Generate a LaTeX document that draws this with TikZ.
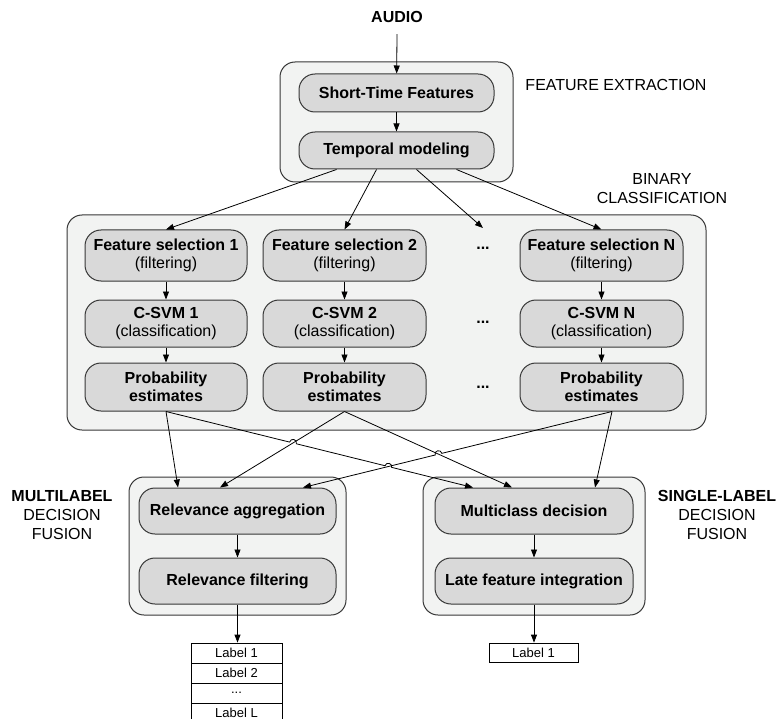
\documentclass[tikz,border=0pt]{standalone}
\usepackage{fontspec}
\setmainfont{Liberation Sans}
\usetikzlibrary{arrows.meta}
\definecolor{boxfill}{RGB}{217,217,217}
\definecolor{contfill}{RGB}{242,243,242}
\definecolor{edgec}{RGB}{55,55,55}
\begin{document}
\begin{tikzpicture}[x=1pt,y=-1pt,
  font=\fontsize{16}{18}\selectfont,
  cont/.style={draw=edgec, fill=contfill, rounded corners=15pt, line width=1pt, inner sep=0pt},
  box/.style={draw=edgec, fill=boxfill, rounded corners=16pt, line width=1pt, align=center, inner sep=0pt},
  cell/.style={draw=black, fill=white, line width=0.8pt, inner sep=0pt, font=\fontsize{13}{15}\selectfont},
  lab/.style={align=center, font=\fontsize{16}{19}\selectfont},
  arr/.style={-{Triangle[length=8pt,width=6pt]}, line width=0.8pt, black},
  ln/.style={line width=0.8pt, black},
  hopw/.style={fill=white}]
\useasboundingbox[fill=white] (0,0) rectangle (778,719);

% labels
\node[font=\fontsize{16}{18}\selectfont\bfseries] (audio) at (397,17) {AUDIO};
\node[lab] (lfe) at (616,85) {FEATURE EXTRACTION};
\node[lab] (lbc) at (662,189) {BINARY\\CLASSIFICATION};
\node[lab] (lml) at (62,515) {\textbf{MULTILABEL}\\DECISION\\FUSION};
\node[lab] (lsl) at (717,515) {\textbf{SINGLE-LABEL}\\DECISION\\FUSION};

% feature extraction
\node[cont, minimum width=233pt, minimum height=120pt] (fe) at (396.5,122) {};
\node[box, minimum width=195pt, minimum height=38pt] (stf) at (396.5,93) {\textbf{Short-Time Features}};
\node[box, minimum width=195pt, minimum height=37pt] (tm) at (396.5,150.5) {\textbf{Temporal modeling}};

% binary classification
\node[cont, minimum width=639pt, minimum height=215pt] (bc) at (386.5,322.5) {};
\node[box, minimum width=162pt, minimum height=51pt] (fs1) at (166,255.5) {\textbf{Feature selection 1}\\(filtering)};
\node[box, minimum width=163pt, minimum height=51pt] (fs2) at (344.5,255.5) {\textbf{Feature selection 2}\\(filtering)};
\node[box, minimum width=163pt, minimum height=51pt] (fsn) at (601.5,255.5) {\textbf{Feature selection N}\\(filtering)};
\node[box, minimum width=162pt, minimum height=47pt] (cs1) at (166,323.5) {\textbf{C-SVM 1}\\(classification)};
\node[box, minimum width=163pt, minimum height=47pt] (cs2) at (344.5,323.5) {\textbf{C-SVM 2}\\(classification)};
\node[box, minimum width=163pt, minimum height=47pt] (csn) at (601.5,323.5) {\textbf{C-SVM N}\\(classification)};
\node[box, minimum width=162pt, minimum height=48pt] (pr1) at (166,387) {\textbf{Probability}\\\textbf{estimates}};
\node[box, minimum width=163pt, minimum height=48pt] (pr2) at (344.5,387) {\textbf{Probability}\\\textbf{estimates}};
\node[box, minimum width=163pt, minimum height=48pt] (prn) at (601.5,387) {\textbf{Probability}\\\textbf{estimates}};
\node (d1) at (483,248) {\textbf{...}};
\node (d2) at (483,322) {\textbf{...}};
\node (d3) at (483,387) {\textbf{...}};
\coordinate (dtop) at (483,228);

% decision fusion
\node[cont, minimum width=217pt, minimum height=138pt] (ml) at (237.5,546) {};
\node[box, minimum width=197pt, minimum height=46pt] (ra) at (237.5,511) {\textbf{Relevance aggregation}};
\node[box, minimum width=197pt, minimum height=46pt] (rf) at (237.5,581) {\textbf{Relevance filtering}};
\node[cont, minimum width=222pt, minimum height=138pt] (sl) at (534,546) {};
\node[box, minimum width=198pt, minimum height=46pt] (mc) at (534,511) {\textbf{Multiclass decision}};
\node[box, minimum width=198pt, minimum height=46pt] (lf) at (534,581) {\textbf{Late feature integration}};

% label tables
\node[cell, minimum width=91pt, minimum height=20pt] (t1) at (236.5,653) {Label 1};
\node[cell, minimum width=91pt, minimum height=20pt] (t2) at (236.5,673) {Label 2};
\node[cell, minimum width=91pt, minimum height=20pt] (t3) at (236.5,693) {...};
\node[cell, minimum width=91pt, minimum height=20pt] (t4) at (236.5,713) {Label L};
\node[cell, minimum width=89pt, minimum height=19pt] (s1) at (533.5,652.5) {Label 1};

% arrows
\draw[arr] ([yshift=-8pt]audio.south) -- (stf);
\draw[arr] (stf) -- (tm);
\draw[arr] ([xshift=-60pt]tm.south) -- (fs1.north);
\draw[arr] ([xshift=-20pt]tm.south) -- (fs2.north);
\draw[arr] ([xshift=20pt]tm.south) -- (dtop);
\draw[arr] ([xshift=60pt]tm.south) -- (fsn.north);
\draw[arr] (fs1) -- (cs1);
\draw[arr] (fs2) -- (cs2);
\draw[arr] (fsn) -- (csn);
\draw[arr] (cs1) -- (pr1);
\draw[arr] (cs2) -- (pr2);
\draw[arr] (csn) -- (prn);
\draw[arr] (ra) -- (rf);
\draw[arr] (mc) -- (lf);
\draw[arr] (rf.south) -- (rf.south |- t1.north);
\draw[arr] (lf.south) -- (lf.south |- s1.north);

% crossing connectors with line hops
\draw[arr] (pr1.south) -- ([xshift=-61pt]mc.north);
\fill[hopw] (293,442.9) circle (3.3);
\fill[hopw] (388.3,466.8) circle (3.3);
\draw[arr] (pr2.south) -- ([xshift=-17.5pt]ra.north);
\draw[arr] ([xshift=10.5pt]prn.south) -- ([xshift=65.5pt]ra.north);
\fill[hopw] (438.5,454.2) circle (3.3);
\draw[arr] (pr2.south) -- ([xshift=-22pt]mc.north);
\draw[arr] (pr1.south) -- ([xshift=-59.5pt]ra.north);
\draw[arr] ([xshift=10.5pt]prn.south) -- ([xshift=61pt]mc.north);
\draw[ln] (289.6,442.05) .. controls (290.74,437.52) and (297.54,439.22) .. (296.4,443.75);
\draw[ln] (384.9,465.95) .. controls (386.04,461.42) and (392.84,463.12) .. (391.7,467.65);
\draw[ln] (435.1,455.05) .. controls (433.97,450.52) and (440.77,448.82) .. (441.9,453.35);
\end{tikzpicture}
\end{document}
